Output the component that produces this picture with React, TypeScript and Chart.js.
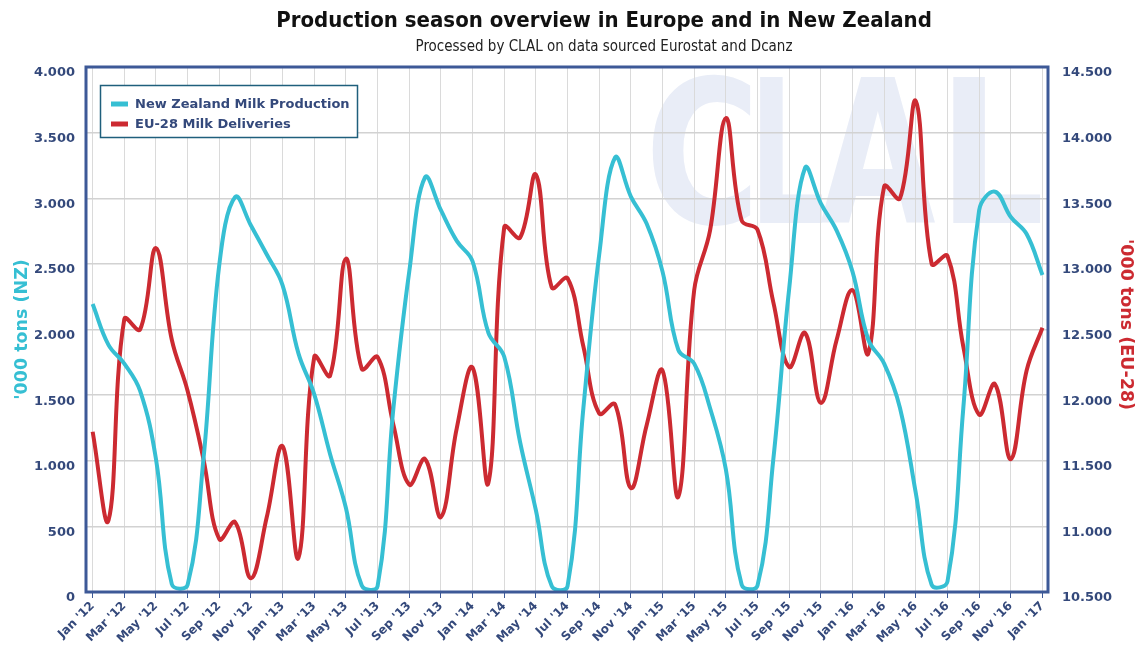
import React, { useEffect, useRef } from 'react';
import { Chart, registerables } from 'chart.js';

Chart.register(...registerables);

const MONTHS = ['Jan', 'Feb', 'Mar', 'Apr', 'May', 'Jun', 'Jul', 'Aug', 'Sep', 'Oct', 'Nov', 'Dec'];
const YEARS = ['12', '13', '14', '15', '16', '17'];

const CATEGORIES: string[] = [];
YEARS.forEach((y, yi) => {
  MONTHS.forEach((m, mi) => {
    if (yi === YEARS.length - 1 && mi > 0) return;
    CATEGORIES.push(`${m} '${y}`);
  });
});

// '000 tons, New Zealand (left axis)
const NZ_PRODUCTION = [
  2194, 1883, 1740, 1532, 1013, 60, 55, 1013, 2493, 3010, 2792, 2571,
  2337, 1818, 1506, 1050, 640, 50, 45, 1402, 2441, 3160, 2909, 2675,
  2519, 1974, 1792, 1143, 623, 45, 45, 1402, 2571, 3310, 3013, 2805,
  2441, 1844, 1740, 1402, 935, 55, 50, 1013, 2311, 3230, 2961, 2753,
  2441, 1922, 1740, 1402, 753, 55, 80, 1402, 2909, 3050, 2857, 2727,
  2415,
];

// '000 tons, EU-28 (right axis)
const EU_DELIVERIES = [
  11721, 11045, 12580, 12500, 13120, 12422, 12032, 11513, 10903, 11032, 10604, 11071,
  11610, 10760, 12292, 12149, 13040, 12200, 12290, 11773, 11318, 11513, 11071, 11747,
  12210, 11331, 13280, 13200, 13680, 12820, 12890, 12370, 11860, 11930, 11292, 11773,
  12188, 11227, 12800, 13253, 14110, 13330, 13260, 12707, 12214, 12474, 11941, 12422,
  12800, 12318, 13590, 13499, 14240, 13000, 13060, 12370, 11851, 12084, 11513, 12188,
  12513,
];

const LEFT_RANGE = [0, 4000];
const RIGHT_RANGE = [10500, 14500];
const TICK_STEP = 500;

const TITLE = 'Production season overview in Europe and in New Zealand';
const SUBTITLE = 'Processed by CLAL on data sourced Eurostat and Dcanz';
const LEFT_TITLE = "'000 tons (NZ)";
const RIGHT_TITLE = "'000 tons (EU-28)";
const SERIES_NAMES = ['New Zealand Milk Production', 'EU-28 Milk Deliveries'];
const WATERMARK = ['C', 'L', 'A', 'L'];

const CYAN = '#36bfd3';
const RED = '#cc2a31';
const AXIS_TEXT = '#34497b';
const FRAME = '#3d5997';
const FONT = '"DejaVu Sans", Verdana, sans-serif';

const fmt = (v: number) => {
  if (v >= 1000) {
    const t = Math.floor(v / 1000);
    const r = Math.round(v % 1000);
    return `${t}.${String(r).padStart(3, '0')}`;
  }
  return String(v);
};

const decorPlugin = {
  id: 'decor',
  beforeDraw(chart: any) {
    const { ctx, chartArea } = chart;
    ctx.save();
    ctx.fillStyle = '#e9edf7';
    ctx.font = `bold 200px ${FONT}`;
    ctx.textBaseline = 'alphabetic';
    const base = chartArea.top + 156;
    // letter boxes relative to the right edge of the plot
    const boxes = [
      [-396, -298],
      [-288, -226],
      [-228, -113],
      [-95, -8],
    ];
    WATERMARK.forEach((ch, i) => {
      const m = ctx.measureText(ch);
      const w = m.actualBoundingBoxRight + m.actualBoundingBoxLeft || m.width;
      const [a, b] = boxes[i];
      const target = b - a;
      ctx.save();
      ctx.translate(chartArea.right + a, base);
      ctx.scale(target / w, 1);
      ctx.fillText(ch, m.actualBoundingBoxLeft || 0, 0);
      ctx.restore();
    });
    ctx.restore();
  },
  afterDraw(chart: any) {
    const { ctx, chartArea } = chart;
    ctx.save();
    // frame
    ctx.strokeStyle = FRAME;
    ctx.lineWidth = 3;
    ctx.strokeRect(chartArea.left, chartArea.top, chartArea.right - chartArea.left, chartArea.bottom - chartArea.top);

    // titles
    ctx.textAlign = 'center';
    ctx.textBaseline = 'middle';
    ctx.fillStyle = '#111111';
    ctx.font = `bold 22px "DejaVu Sans Condensed", "Liberation Sans Narrow", ${FONT}`;
    ctx.fillText(TITLE, 604, 21);
    ctx.fillStyle = '#222222';
    ctx.font = `15px "DejaVu Sans Condensed", "Liberation Sans Narrow", ${FONT}`;
    ctx.fillText(SUBTITLE, 604, 47);

    // axis titles
    const midY = (chartArea.top + chartArea.bottom) / 2;
    ctx.font = `bold 17.5px ${FONT}`;
    ctx.fillStyle = CYAN;
    ctx.save();
    ctx.translate(22, midY);
    ctx.rotate(-Math.PI / 2);
    ctx.fillText(LEFT_TITLE, 0, 0);
    ctx.restore();
    ctx.fillStyle = RED;
    ctx.save();
    ctx.translate(1126, midY - 5);
    ctx.rotate(Math.PI / 2);
    ctx.fillText(RIGHT_TITLE, 0, 0);
    ctx.restore();

    // legend
    const lx = chartArea.left + 14;
    const ly = chartArea.top + 18;
    ctx.fillStyle = '#ffffff';
    ctx.fillRect(lx, ly, 257, 52);
    ctx.strokeStyle = '#1f5f7c';
    ctx.lineWidth = 1.5;
    ctx.strokeRect(lx + 0.5, ly + 0.5, 257, 52);
    ctx.textAlign = 'left';
    ctx.font = `bold 13px ${FONT}`;
    [CYAN, RED].forEach((c, i) => {
      const yy = ly + 19 + i * 20;
      ctx.strokeStyle = c;
      ctx.lineWidth = 5;
      ctx.beginPath();
      ctx.moveTo(lx + 11, yy);
      ctx.lineTo(lx + 28, yy);
      ctx.stroke();
      ctx.fillStyle = AXIS_TEXT;
      ctx.fillText(SERIES_NAMES[i], lx + 35, yy + 1);
    });
    ctx.restore();
  },
};

export default function App() {
  const ref = useRef<HTMLCanvasElement | null>(null);

  useEffect(() => {
    document.body.style.margin = '0';
    const canvas = ref.current;
    if (!canvas) return;
    const tickFont = { family: FONT, size: 13, weight: 'bold' as const };
    const chart = new Chart(canvas, {
      type: 'line',
      data: {
        datasets: [
          {
            label: SERIES_NAMES[0],
            data: NZ_PRODUCTION.map((v, i) => ({ x: i, y: v })),
            borderColor: CYAN,
            backgroundColor: CYAN,
            borderWidth: 4,
            pointRadius: 0,
            tension: 0.4,
            yAxisID: 'y',
          },
          {
            label: SERIES_NAMES[1],
            data: EU_DELIVERIES.map((v, i) => ({ x: i, y: v })),
            borderColor: RED,
            backgroundColor: RED,
            borderWidth: 4,
            pointRadius: 0,
            tension: 0.4,
            yAxisID: 'y1',
          },
        ],
      },
      options: {
        responsive: false,
        animation: false,
        layout: { padding: { top: 67, left: 0, right: 0, bottom: 0 } },
        plugins: {
          legend: { display: false },
          title: { display: false },
          tooltip: { enabled: false },
        },
        scales: {
          x: {
            type: 'linear',
            min: -0.42,
            max: 60.35,
            afterBuildTicks: (axis: any) => {
              axis.ticks = CATEGORIES.map((_, i) => i)
                .filter((i) => i % 2 === 0)
                .map((v) => ({ value: v }));
            },
            afterFit: (axis: any) => {
              axis.height = 55;
            },
            ticks: {
              autoSkip: false,
              minRotation: 45,
              maxRotation: 45,
              padding: 1,
              color: AXIS_TEXT,
              font: { family: FONT, size: 12, weight: 'bold' },
              callback: (v: any) => CATEGORIES[Math.round(Number(v))] ?? '',
            },
            grid: {
              color: '#dadada',
              lineWidth: 1,
              tickColor: FRAME,
              tickLength: 6,
              drawTicks: true,
            },
            border: { display: false },
          },
          y: {
            position: 'left',
            min: LEFT_RANGE[0],
            max: LEFT_RANGE[1],
            afterFit: (axis: any) => {
              axis.width = 86;
            },
            ticks: {
              stepSize: TICK_STEP,
              padding: 11,
              labelOffset: 6,
              color: AXIS_TEXT,
              font: tickFont,
              callback: (v: any) => fmt(Number(v)),
            },
            grid: { color: '#d2d2d2', lineWidth: 1.5, drawTicks: false },
            border: { display: false },
          },
          y1: {
            position: 'right',
            min: RIGHT_RANGE[0],
            max: RIGHT_RANGE[1],
            afterFit: (axis: any) => {
              axis.width = 96;
            },
            ticks: {
              stepSize: TICK_STEP,
              padding: 14,
              labelOffset: 6,
              color: AXIS_TEXT,
              font: tickFont,
              callback: (v: any) => fmt(Number(v)),
            },
            grid: { drawOnChartArea: false, drawTicks: false },
            border: { display: false },
          },
        },
      },
      plugins: [decorPlugin],
    });
    return () => chart.destroy();
  }, []);

  return (
    <div style={{ width: 1144, height: 647 }}>
      <canvas ref={ref} width={1144} height={647} style={{ display: 'block' }} />
    </div>
  );
}
